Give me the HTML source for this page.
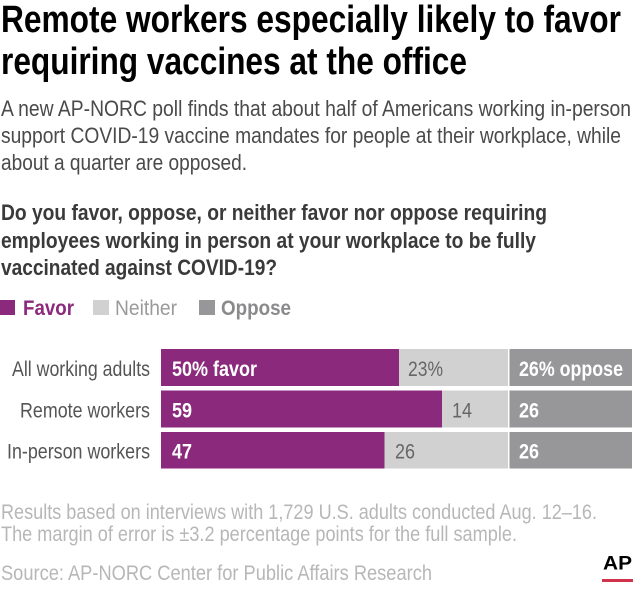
<!DOCTYPE html>
<html>
<head>
<meta charset="utf-8">
<style>
html,body{margin:0;padding:0;background:#fff;}
svg{display:block;}
text{font-family:"Liberation Sans", Arial, sans-serif;}
</style>
</head>
<body>
<svg width="640" height="589" viewBox="0 0 640 589" xmlns="http://www.w3.org/2000/svg">
<rect width="640" height="589" fill="#fff"/>
<!-- Title -->
<text x="1" y="32" font-size="38" font-weight="bold" fill="#000" textLength="620" lengthAdjust="spacingAndGlyphs">Remote workers especially likely to favor</text>
<text x="1" y="74" font-size="38" font-weight="bold" fill="#000" textLength="466" lengthAdjust="spacingAndGlyphs">requiring vaccines at the office</text>
<!-- Subtitle -->
<g font-size="22.5" fill="#4a4a4a">
<text x="1" y="116" textLength="630" lengthAdjust="spacingAndGlyphs">A new AP-NORC poll finds that about half of Americans working in-person</text>
<text x="1" y="143" textLength="620" lengthAdjust="spacingAndGlyphs">support COVID-19 vaccine mandates for people at their workplace, while</text>
<text x="1" y="170" textLength="246" lengthAdjust="spacingAndGlyphs">about a quarter are opposed.</text>
</g>
<!-- Question -->
<g font-size="22.5" font-weight="bold" fill="#3a3a3a">
<text x="1" y="220" textLength="546" lengthAdjust="spacingAndGlyphs">Do you favor, oppose, or neither favor nor oppose requiring</text>
<text x="1" y="248" textLength="535" lengthAdjust="spacingAndGlyphs">employees working in person at your workplace to be fully</text>
<text x="1" y="275" textLength="276" lengthAdjust="spacingAndGlyphs">vaccinated against COVID-19?</text>
</g>
<!-- Legend -->
<rect x="0" y="300" width="15" height="15" fill="#8b2a7d"/>
<text x="23" y="315" font-size="21" font-weight="bold" fill="#8b2a7d" textLength="51" lengthAdjust="spacingAndGlyphs">Favor</text>
<rect x="93" y="300" width="16" height="15" fill="#d1d1d1"/>
<text x="115" y="315" font-size="21" fill="#9a9a9a" textLength="62" lengthAdjust="spacingAndGlyphs">Neither</text>
<rect x="199" y="300" width="16" height="15" fill="#97979a"/>
<text x="221" y="315" font-size="21" font-weight="bold" fill="#8a8a8c" textLength="70" lengthAdjust="spacingAndGlyphs">Oppose</text>
<!-- Row labels -->
<g font-size="21" fill="#555" text-anchor="end">
<text x="150" y="376" textLength="138" lengthAdjust="spacingAndGlyphs">All working adults</text>
<text x="150" y="417.5" textLength="130" lengthAdjust="spacingAndGlyphs">Remote workers</text>
<text x="150" y="458.5" textLength="143" lengthAdjust="spacingAndGlyphs">In-person workers</text>
</g>
<!-- Bars row 1 -->
<rect x="161" y="349" width="238" height="37" fill="#8b2a7d"/>
<rect x="399" y="349" width="109" height="37" fill="#d1d1d1"/>
<rect x="509.5" y="349" width="122.5" height="37" fill="#97979a"/>
<!-- Bars row 2 -->
<rect x="161" y="390.5" width="281" height="37" fill="#8b2a7d"/>
<rect x="442" y="390.5" width="66" height="37" fill="#d1d1d1"/>
<rect x="509.5" y="390.5" width="122.5" height="37" fill="#97979a"/>
<!-- Bars row 3 -->
<rect x="161" y="432" width="223.5" height="36.5" fill="#8b2a7d"/>
<rect x="384.5" y="432" width="123.5" height="36.5" fill="#d1d1d1"/>
<rect x="509.5" y="432" width="122.5" height="36.5" fill="#97979a"/>
<!-- Bar labels -->
<g font-size="21" font-weight="bold" fill="#fff">
<text x="172" y="376" textLength="85" lengthAdjust="spacingAndGlyphs">50% favor</text>
<text x="519" y="376" textLength="104" lengthAdjust="spacingAndGlyphs">26% oppose</text>
<text x="172" y="417.5" textLength="20" lengthAdjust="spacingAndGlyphs">59</text>
<text x="519" y="417.5" textLength="20" lengthAdjust="spacingAndGlyphs">26</text>
<text x="172" y="458.5" textLength="20" lengthAdjust="spacingAndGlyphs">47</text>
<text x="519" y="458.5" textLength="20" lengthAdjust="spacingAndGlyphs">26</text>
</g>
<g font-size="21" fill="#666">
<text x="408" y="376" textLength="35" lengthAdjust="spacingAndGlyphs">23%</text>
<text x="452" y="417.5" textLength="20" lengthAdjust="spacingAndGlyphs">14</text>
<text x="395" y="458.5" textLength="20" lengthAdjust="spacingAndGlyphs">26</text>
</g>
<!-- Footer -->
<g font-size="21" fill="#b7b7b7">
<text x="1" y="519" textLength="596" lengthAdjust="spacingAndGlyphs">Results based on interviews with 1,729 U.S. adults conducted Aug. 12–16.</text>
<text x="1" y="541" textLength="516" lengthAdjust="spacingAndGlyphs">The margin of error is ±3.2 percentage points for the full sample.</text>
<text x="1" y="580" textLength="431" lengthAdjust="spacingAndGlyphs">Source: AP-NORC Center for Public Affairs Research</text>
</g>
<!-- AP logo -->
<text x="603" y="569.5" font-size="19" font-weight="bold" fill="#000" textLength="29" lengthAdjust="spacingAndGlyphs">AP</text>
<rect x="602" y="579" width="31" height="3" fill="#d1334a"/>
</svg>
</body>
</html>
